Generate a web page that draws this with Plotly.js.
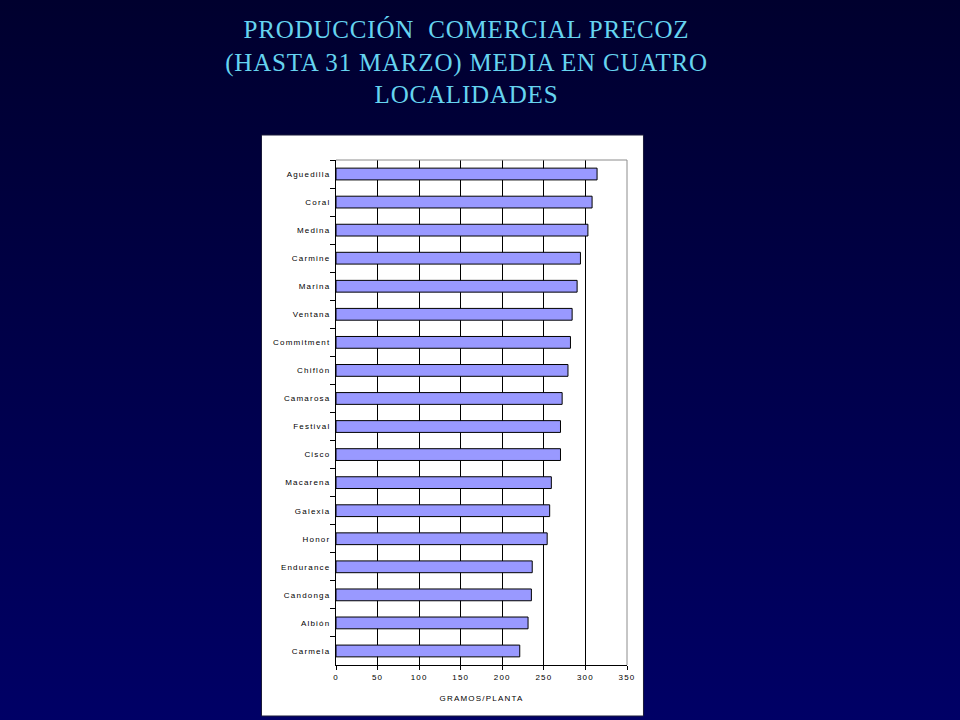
<!DOCTYPE html>
<html>
<head>
<meta charset="utf-8">
<script src="https://cdn.plot.ly/plotly-3.0.1.min.js"></script>
<style>
  html, body { margin: 0; padding: 0; }
  body { width: 960px; height: 720px; background: linear-gradient(to bottom, #00002e 0%, #00004a 50%, #000066 100%); }
  #chart { width: 960px; height: 720px; }
</style>
</head>
<body>
<div id="chart"></div>
<script>
// variedades, de arriba a abajo
const variedades = ['Aguedilla', 'Coral', 'Medina', 'Carmine', 'Marina', 'Ventana', 'Commitment', 'Chiflón',
    'Camarosa', 'Festival', 'Cisco', 'Macarena', 'Galexia', 'Honor', 'Endurance', 'Candonga', 'Albión', 'Carmela'];
// gramos/planta hasta 31 marzo
const gramosPlanta = [314, 308, 303, 294, 290, 284, 282, 279, 272, 270, 270, 259, 257, 254, 236, 235, 231, 221];
const xTicks = [0, 50, 100, 150, 200, 250, 300, 350];

const tituloTexto = 'PRODUCCIÓN  COMERCIAL PRECOZ<br>(HASTA 31 MARZO) MEDIA EN CUATRO<br>LOCALIDADES';

const barras = {
    type: 'bar',
    orientation: 'h',
    y: variedades,
    x: gramosPlanta,
    width: 0.42,
    marker: {
        color: '#9999ff',
        line: { color: '#000000', width: 1 }
    },
    hoverinfo: 'x+y',
    showlegend: false
};

const layout = {
    width: 960,
    height: 720,
    paper_bgcolor: 'rgba(0,0,0,0)',
    plot_bgcolor: '#ffffff',
    margin: { l: 336, r: 333, t: 160, b: 55 },
    font: { family: 'Liberation Sans, Arial, sans-serif', size: 8, color: '#000000' },
    annotations: [{
        // título (como anotación para controlar bien la posición)
        text: tituloTexto,
        xref: 'paper', yref: 'paper',
        x: 0.447, y: 1.29,
        xanchor: 'center', yanchor: 'top',
        showarrow: false,
        align: 'center',
        font: { family: 'Liberation Serif, Times New Roman, serif', size: 25, color: '#66d4f0' }
    }],
    xaxis: {
        range: [0, 350],
        tickmode: 'array',
        tickvals: xTicks,
        ticks: 'outside',
        ticklen: 4,
        tickcolor: '#000000',
        showgrid: true,
        gridcolor: '#000000',
        gridwidth: 1,
        showline: true,
        linecolor: '#000000',
        zeroline: false,
        tickfont: { size: 8, color: '#000000' },
        title: { text: 'GRAMOS/PLANTA', font: { size: 8, color: '#000000' }, standoff: 14 },
        fixedrange: true
    },
    yaxis: {
        type: 'category',
        autorange: 'reversed',
        tickson: 'boundaries',
        ticks: 'outside',
        ticklen: 5,
        tickcolor: '#000000',
        showgrid: false,
        showline: true,
        linecolor: '#000000',
        zeroline: false,
        tickfont: { size: 8, color: '#000000' },
        ticklabelstandoff: 3,
        fixedrange: true
    },
    shapes: [
        // panel blanco del gráfico
        {
            type: 'rect', xref: 'paper', yref: 'paper', layer: 'below',
            x0: -0.256, x1: 1.0566, y0: -0.101, y1: 1.0495,
            fillcolor: '#ffffff', line: { color: '#1a1a3a', width: 1 }
        },
        // borde gris arriba y a la derecha del área de trazado
        {
            type: 'path', xref: 'paper', yref: 'paper', layer: 'above',
            path: 'M 0 1 L 1 1 L 1 0',
            line: { color: '#8c8c8c', width: 1 }
        }
    ]
};

Plotly.newPlot('chart', [barras], layout, { displayModeBar: false, staticPlot: true }).then((gd) => {
    // espaciado de letras tipo Excel antiguo
    gd.querySelectorAll('.ytick text, .xtick text, .xtitle').forEach((t) => {
        t.style.letterSpacing = '1.2px';
    });
    gd.querySelectorAll('.annotation-text').forEach((t) => {
        t.style.letterSpacing = '0.8px';
    });
});
</script>
</body>
</html>
